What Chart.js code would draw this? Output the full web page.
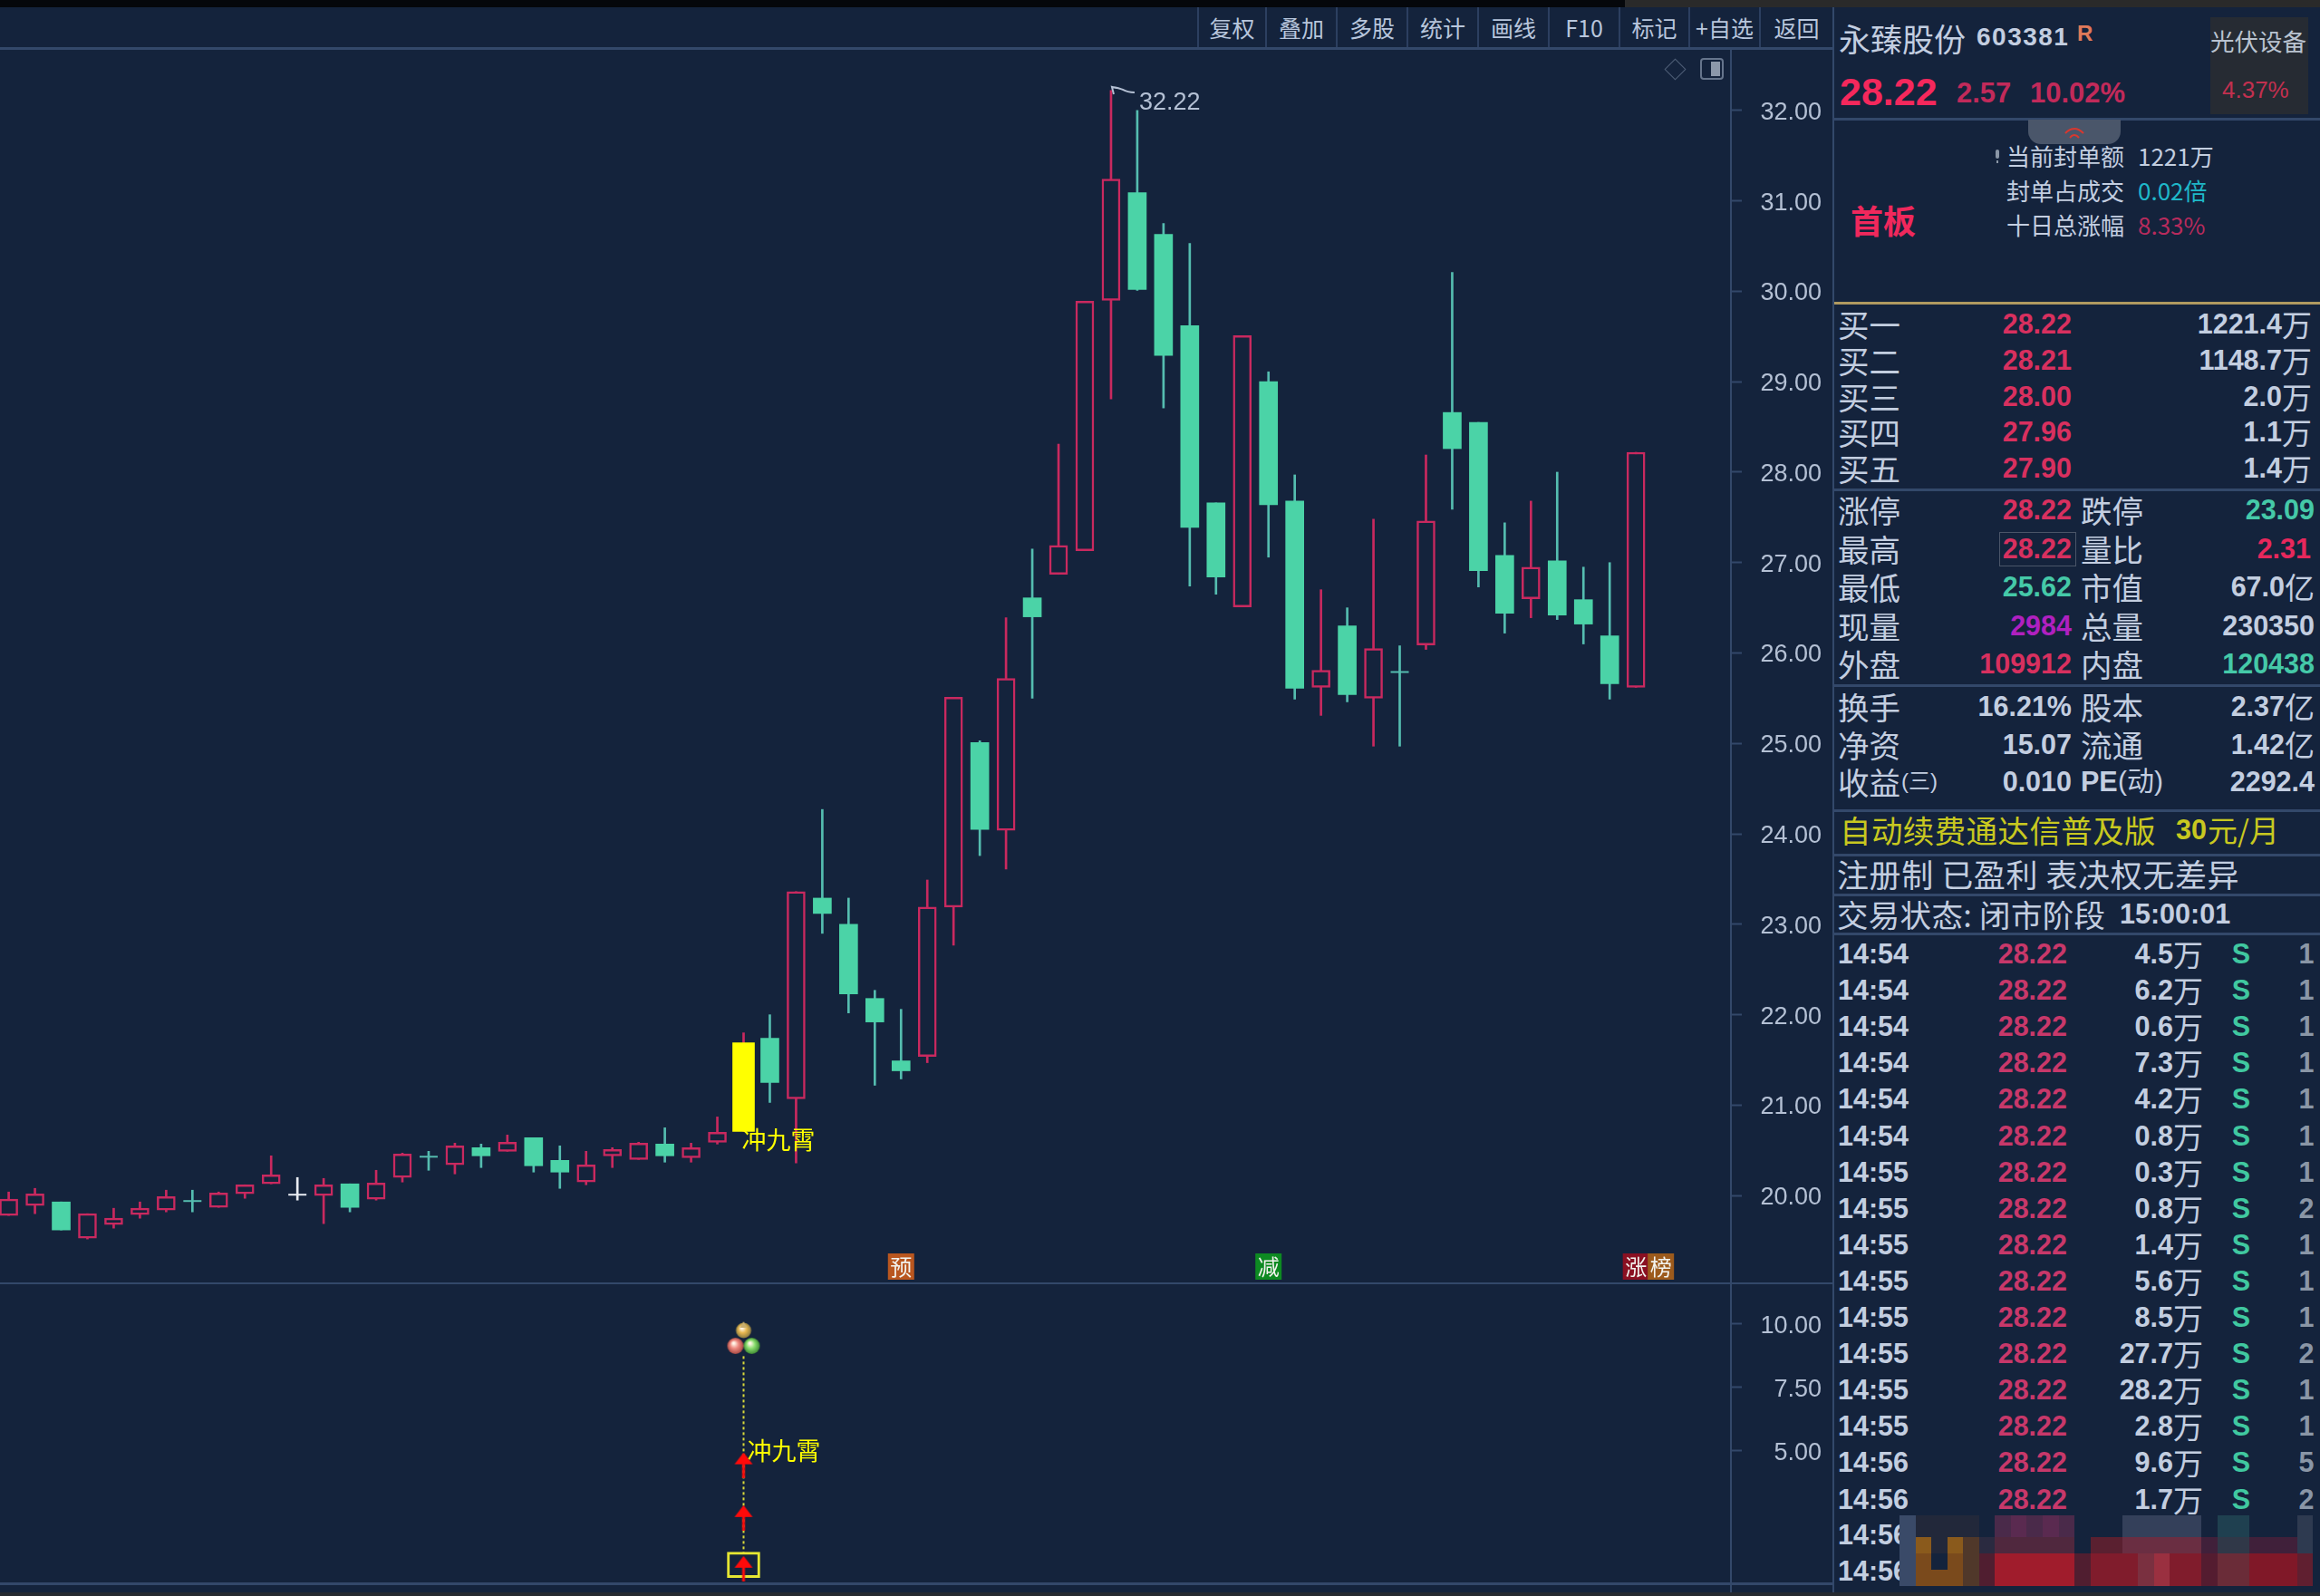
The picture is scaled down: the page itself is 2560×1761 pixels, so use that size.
<!DOCTYPE html>
<html lang="zh">
<head>
<meta charset="utf-8">
<title>永臻股份 603381</title>
<script src="https://cdn.jsdelivr.net/npm/chart.js@4"></script>
<style>
    html, body { margin: 0; padding: 0; background: #14233c; }
    #page { position: relative; width: 2560px; height: 1761px; overflow: hidden; background: #14233c;
        font-family: "Noto Sans CJK SC", "Liberation Sans", sans-serif; }
    #page canvas { position: absolute; left: 0; }
    .t { position: absolute; white-space: pre; line-height: 1; transform: translateY(-50%); }
    .n { font-family: "Liberation Sans", sans-serif; font-weight: 700; }
    .box { position: absolute; }
</style>
</head>
<body>
<div id="page">
    <canvas id="mainChart" width="2010" height="1361" style="top:55px;width:2010px;height:1361px"></canvas>
    <canvas id="subChart" width="2010" height="331" style="top:1416px;width:2010px;height:331px"></canvas>
</div>
<script>
// daily bars
const openPrices = [19.78, 19.89, 19.93, 19.53, 19.68, 19.79, 19.84, 19.95, 19.87, 20.02, 20.13, 20.01, 20.00, 20.13, 19.96, 20.20, 20.44, 20.34, 20.53, 20.49, 20.64, 20.39, 20.15, 20.44, 20.40, 20.57, 20.42, 20.59, 20.71, 21.74, 21.07, 23.29, 23.00, 22.18, 21.49, 21.54, 23.19, 25.01, 24.04, 26.61, 26.87, 27.13, 29.90, 31.09, 30.63, 29.62, 27.66, 26.51, 29.00, 27.68, 25.62, 26.30, 25.50, 25.80, 26.09, 28.66, 28.55, 27.08, 26.60, 27.02, 26.59, 26.19, 25.62];
const closePrices = [19.96, 20.02, 19.62, 19.80, 19.75, 19.86, 19.99, 19.94, 20.03, 20.12, 20.23, 20.01, 20.12, 19.87, 20.14, 20.46, 20.43, 20.55, 20.44, 20.59, 20.33, 20.26, 20.34, 20.51, 20.58, 20.44, 20.53, 20.70, 21.69, 21.25, 23.36, 23.12, 22.23, 21.92, 21.38, 23.19, 25.51, 24.05, 25.72, 26.40, 27.19, 29.89, 31.24, 30.02, 29.29, 27.39, 26.84, 29.51, 27.64, 25.61, 25.81, 25.54, 26.05, 25.79, 27.46, 28.26, 26.91, 26.44, 26.95, 26.42, 26.32, 25.66, 28.22];
const highPrices = [20.04, 20.08, 19.93, 19.80, 19.86, 19.93, 20.06, 20.06, 20.04, 20.12, 20.44, 20.20, 20.19, 20.13, 20.28, 20.47, 20.49, 20.58, 20.57, 20.67, 20.64, 20.55, 20.49, 20.53, 20.59, 20.75, 20.58, 20.87, 21.80, 22.00, 23.36, 24.27, 23.29, 22.27, 22.06, 23.49, 25.51, 25.03, 26.39, 27.15, 28.31, 29.89, 32.22, 32.00, 30.75, 30.53, 27.66, 29.51, 29.11, 27.97, 26.70, 26.50, 27.48, 26.08, 28.19, 30.21, 28.55, 27.44, 27.68, 28.00, 26.95, 27.00, 28.22];
const lowPrices = [19.78, 19.80, 19.62, 19.52, 19.64, 19.75, 19.82, 19.82, 19.87, 19.97, 20.13, 19.95, 19.69, 19.82, 19.95, 20.15, 20.28, 20.24, 20.31, 20.49, 20.26, 20.08, 20.12, 20.31, 20.40, 20.37, 20.37, 20.57, 20.71, 21.03, 20.36, 22.90, 22.02, 21.22, 21.29, 21.47, 22.77, 23.76, 23.61, 25.50, 26.87, 27.13, 28.81, 30.01, 28.71, 26.74, 26.65, 26.51, 27.06, 25.49, 25.31, 25.46, 24.97, 24.97, 26.04, 27.59, 26.73, 26.22, 26.39, 26.37, 26.10, 25.49, 25.62];
const flatBars = [7, 11, 16, 53];
const signalBar = 28;
const peakBar = 42;
const priceTicks = [20, 21, 22, 23, 24, 25, 26, 27, 28, 29, 30, 31, 32];

// lower pane: the 冲九霄 signal column
const subTicks = [5, 7.5, 10];
const signalBox = [0, 1];
const signalLine = [0.9, 8.8];
const arrowLevels = [0.35, 2.35, 4.43];
const ballLevel = 9.42;
const subLabelLevel = 5.0;

const flagBars = [34, 48, 62, 62.95];
const flagTexts = ['预', '减', '涨', '榜'];
const flagColors = ['#b9561f', '#0d8a22', '#8a1022', '#9c5a1c'];

const RED = '#c9295f';
const GREEN = '#4bd3a7';
const GREEN_WICK = '#55bdb0';
const BG = '#14233c';
const AXIS_TEXT = '#b4c0d4';
const LINE = '#33486a';
const LABEL = '冲九霄';

// x runs on the bar index so the first bar can sit half off the left edge
const xMin = -0.3315;
const xMax = 65.62;

function barColor(i) {
    if (closePrices[i] > openPrices[i]) return RED;
    if (closePrices[i] < openPrices[i]) return GREEN;
    return '#e8ecf2';
}

function wickColor(i) {
    const c = barColor(i);
    return c === GREEN ? GREEN_WICK : c;
}

const bars = openPrices.map((_, i) => i);
const bodyBars = bars.filter(i => !flatBars.includes(i) && i !== signalBar);

function rightAxis(tickValues, min, max) {
    return {
        position: 'right',
        min: min,
        max: max,
        afterBuildTicks: scale => { scale.ticks = tickValues.map(value => ({ value })); },
        afterFit: scale => { scale.width = 100; scale.paddingTop = 0; scale.paddingBottom = 0; },
        border: { display: false },
        grid: { drawOnChartArea: false, drawTicks: true, tickLength: 12, tickColor: LINE, tickWidth: 2 },
        ticks: {
            crossAlign: 'far',
            padding: 21,
            labelOffset: 2.5,
            autoSkip: false,
            color: AXIS_TEXT,
            font: { family: '"Liberation Sans"', size: 27 },
            callback: v => v.toFixed(2)
        }
    };
}

const hiddenX = { type: 'linear', min: xMin, max: xMax, offset: false, display: false, grid: { display: false } };

// text and small marks that hang on a bar
const mainMarks = {
    id: 'mainMarks',
    afterDatasetsDraw(chart) {
        const { ctx, scales } = chart;
        const px = scales.x.getPixelForValue(peakBar);
        const py = scales.y.getPixelForValue(highPrices[peakBar]);
        ctx.save();
        ctx.strokeStyle = AXIS_TEXT;
        ctx.lineWidth = 2;
        ctx.beginPath();
        ctx.moveTo(px + 3, py + 4);
        ctx.lineTo(px + 1, py - 4);
        ctx.lineTo(px + 6, py - 3);
        ctx.moveTo(px + 1, py - 4);
        ctx.quadraticCurveTo(px + 9, py - 3, px + 13, py - 1);
        ctx.quadraticCurveTo(px + 18, py + 2, px + 26, py + 2);
        ctx.stroke();
        ctx.fillStyle = AXIS_TEXT;
        ctx.font = '27px "Liberation Sans"';
        ctx.textBaseline = 'middle';
        ctx.fillText(highPrices[peakBar].toFixed(2), px + 31, py + 14);

        ctx.fillStyle = '#ffff00';
        ctx.font = '27px "Noto Sans CJK SC"';
        ctx.fillText(LABEL, scales.x.getPixelForValue(signalBar) - 2, scales.y.getPixelForValue(20.62));

        const bottom = chart.chartArea.bottom - 4;
        flagBars.forEach((b, i) => {
            const x = scales.x.getPixelForValue(b);
            ctx.fillStyle = flagColors[i];
            ctx.fillRect(x - 14.5, bottom - 29, 29, 29);
            ctx.fillStyle = '#f2f2ee';
            ctx.font = '24px "Noto Sans CJK SC"';
            ctx.textAlign = 'center';
            ctx.fillText(flagTexts[i], x, bottom - 14);
            ctx.textAlign = 'left';
        });
        ctx.restore();
    }
};

new Chart(document.getElementById('mainChart'), {
    type: 'bar',
    plugins: [mainMarks],
    data: {
        datasets: [
            {
                label: 'wick',
                order: 4,
                grouped: false,
                barThickness: 2,
                data: bars.map(i => ({ x: i, y: [lowPrices[i], highPrices[i]] })),
                backgroundColor: bars.map(wickColor)
            },
            {
                label: 'body',
                order: 3,
                grouped: false,
                barThickness: 20,
                borderSkipped: false,
                data: bodyBars.map(i => ({ x: i, y: [openPrices[i], closePrices[i]] })),
                backgroundColor: bodyBars.map(i => barColor(i) === RED ? BG : GREEN),
                borderColor: bodyBars.map(i => barColor(i) === RED ? RED : GREEN),
                borderWidth: bodyBars.map(i => barColor(i) === RED ? 2.5 : 0)
            },
            {
                label: 'signal',
                order: 2,
                grouped: false,
                barThickness: 24,
                data: [{ x: signalBar, y: [openPrices[signalBar], closePrices[signalBar]] }],
                backgroundColor: '#ffff00'
            },
            {
                label: 'flat',
                type: 'scatter',
                order: 1,
                data: flatBars.map(i => ({ x: i, y: closePrices[i] })),
                pointStyle: 'line',
                pointRadius: 10,
                pointBorderWidth: 2,
                pointBorderColor: flatBars.map(wickColor)
            }
        ]
    },
    options: {
        responsive: false,
        animation: false,
        devicePixelRatio: 1,
        layout: { padding: 0, autoPadding: false },
        plugins: { legend: { display: false }, tooltip: { enabled: false } },
        scales: {
            x: hiddenX,
            y: rightAxis(priceTicks, 19.03, 32.67)
        }
    }
});

function arrowImage() {
    const c = document.createElement('canvas');
    c.width = 22;
    c.height = 28;
    const g = c.getContext('2d');
    g.fillStyle = '#ff0a0a';
    g.beginPath();
    g.moveTo(11, 0);
    g.lineTo(21, 13);
    g.lineTo(1, 13);
    g.closePath();
    g.fill();
    g.fillRect(9.5, 12, 3, 16);
    return c;
}

function ballsImage() {
    const c = document.createElement('canvas');
    c.width = 40;
    c.height = 40;
    const g = c.getContext('2d');
    const ball = (x, y, r, edge, mid) => {
        const grad = g.createRadialGradient(x - 2, y - 3, 1, x, y, r);
        grad.addColorStop(0, '#fff6e8');
        grad.addColorStop(0.45, mid);
        grad.addColorStop(1, edge);
        g.fillStyle = grad;
        g.beginPath();
        g.arc(x, y, r, 0, Math.PI * 2);
        g.fill();
    };
    ball(20, 11, 8.5, '#8a7a40', '#e8b850');
    g.fillStyle = '#c8ae6e';
    g.beginPath();
    g.moveTo(20, 1);
    g.lineTo(24, 8);
    g.lineTo(16, 8);
    g.closePath();
    g.fill();
    ball(11, 28, 9, '#a84a44', '#ee8a80');
    ball(29, 28, 9, '#3f8a34', '#8ade6e');
    return c;
}

const subMarks = {
    id: 'subMarks',
    afterDatasetsDraw(chart) {
        const { ctx, scales } = chart;
        ctx.save();
        ctx.fillStyle = '#ffff00';
        ctx.font = '27px "Noto Sans CJK SC"';
        ctx.textBaseline = 'middle';
        ctx.fillText(LABEL, scales.x.getPixelForValue(signalBar) + 4, scales.y.getPixelForValue(subLabelLevel));
        ctx.restore();
    }
};

new Chart(document.getElementById('subChart'), {
    type: 'bar',
    plugins: [subMarks],
    data: {
        datasets: [
            {
                label: 'column',
                type: 'line',
                order: 4,
                data: signalLine.map(v => ({ x: signalBar, y: v })),
                borderColor: '#d8d83a',
                borderWidth: 2,
                borderDash: [3, 3],
                pointRadius: 0
            },
            {
                label: 'box',
                order: 3,
                grouped: false,
                barThickness: 36,
                borderSkipped: false,
                data: [{ x: signalBar, y: signalBox }],
                backgroundColor: BG,
                borderColor: '#e6e632',
                borderWidth: 3
            },
            {
                label: 'arrows',
                type: 'scatter',
                order: 2,
                data: arrowLevels.map(v => ({ x: signalBar, y: v })),
                pointStyle: arrowImage()
            },
            {
                label: 'balls',
                type: 'scatter',
                order: 1,
                data: [{ x: signalBar, y: ballLevel }],
                pointStyle: ballsImage()
            }
        ]
    },
    options: {
        responsive: false,
        animation: false,
        devicePixelRatio: 1,
        layout: { padding: 0, autoPadding: false },
        plugins: { legend: { display: false }, tooltip: { enabled: false } },
        scales: {
            x: hiddenX,
            y: rightAxis(subTicks, -0.23, 11.6)
        }
    }
});

// ---- frame and quote panel ----
const page = document.getElementById('page');

function rect(x, y, w, h, color, extra) {
    const d = document.createElement('div');
    d.className = 'box';
    d.style.cssText = `left:${x}px;top:${y}px;width:${w}px;height:${h}px;background:${color};${extra || ''}`;
    page.appendChild(d);
    return d;
}

function put(text, x, y, size, color, opts = {}) {
    const s = document.createElement('span');
    s.className = 't' + (opts.num ? ' n' : '');
    s.textContent = text;
    s.style.fontSize = size + 'px';
    s.style.color = color;
    s.style.top = y + 'px';
    if (opts.right) s.style.right = (2560 - x) + 'px';
    else if (opts.center) { s.style.left = x + 'px'; s.style.transform = 'translate(-50%,-50%)'; }
    else s.style.left = x + 'px';
    if (opts.bold) s.style.fontWeight = 700;
    if (opts.latinFirst) s.style.fontFamily = '"Liberation Sans", "Noto Sans CJK SC", sans-serif';
    if (opts.spacing) s.style.letterSpacing = opts.spacing + 'px';
    page.appendChild(s);
    return s;
}

// number in bold latin followed by a cjk unit, right aligned
function value(text, x, y, color, unitWidth) {
    const m = text.match(/^([\d.,%+-]+)(.*)$/);
    const unit = m ? m[2] : '';
    const num = m ? m[1] : text;
    if (unit) {
        put(unit, x, y, 33, color, { right: true });
        put(num, x - (unitWidth || 33), y, 30.5, color, { num: true, right: true });
    } else {
        put(num, x, y, 30.5, color, { num: true, right: true });
    }
}

const TEXT = '#c3cee0';
const PRICE_RED = '#d8305f';
const PRICE_GREEN = '#45c9a8';

// top strip
rect(0, 0, 1793, 8, '#05070b');
rect(1793, 0, 767, 8, '#2a2a2a');

// toolbar
const toolbarLabels = ['复权', '叠加', '多股', '统计', '画线', 'F10', '标记', '+自选', '返回'];
const toolbarEdges = [1321, 1396, 1474, 1552, 1630, 1708, 1786, 1863, 1941, 2022];
toolbarEdges.forEach(x => rect(x, 8, 2, 45, '#2c3f60'));
toolbarLabels.forEach((t, i) => {
    put(t, (toolbarEdges[i] + toolbarEdges[i + 1]) / 2 + 1, 30, 25, '#b8c6dc', { center: true });
});

// frame lines
rect(0, 52, 2024, 2.5, LINE);
rect(1909, 53, 2, 1708, LINE);
rect(2022, 8, 2, 1753, LINE);
rect(0, 1414.5, 2024, 2.5, LINE);
rect(0, 1746, 2024, 2.5, LINE);
rect(0, 1757, 2560, 4, '#262a30');

// corner icons
rect(1839.5, 67.5, 17, 17, 'transparent', 'border:1.5px solid #4e5e76;transform:rotate(45deg);box-sizing:border-box;');
rect(1876, 64, 26, 24, 'transparent', 'border:2px solid #66758c;border-radius:4px;box-sizing:border-box;');
rect(1888, 68, 10, 16, '#8c98aa');

// header
put('永臻股份', 2029, 41, 35, TEXT);
put('603381', 2181, 41, 28, TEXT, { num: true, spacing: 1.5 });
put('R', 2292, 37, 24, '#e07a5a', { num: true });
rect(2439, 19, 108, 107, '#262b33');
put('光伏设备', 2439, 45, 26.5, '#b9c3d0');
put('4.37%', 2452, 99, 26, '#c2304f', { latinFirst: true });
put('28.22', 2030, 101, 43, '#f5285c', { num: true });
put('2.57', 2159, 102, 31, '#c22a5a', { num: true });
put('10.02%', 2240, 102, 31, '#c22a5a', { num: true });
rect(2024, 130, 536, 2.5, LINE);

// collapse tab
rect(2238, 132, 102, 27, '#4a566a', 'border-radius:0 0 14px 14px;');
const chevron = rect(2277, 136, 24, 16, 'transparent');
chevron.innerHTML = '<svg width="24" height="16" fill="none" stroke="#d8382f" stroke-width="2"><path d="M2 8 Q12 -2 22 8"/><path d="M7 13 Q12 7 17 13"/></svg>';

// limit-up summary
put('首板', 2042, 242, 36, '#f0285c', { bold: true });
rect(2202, 165, 4, 10, '#8a96a6', 'border-radius:2px;');
rect(2203, 177, 2, 3, '#8a96a6');
const summaryLabels = ['当前封单额', '封单占成交', '十日总涨幅'];
const summaryValues = ['1221万', '0.02倍', '8.33%'];
const summaryColors = [TEXT, '#1fb8c9', '#b82b5c'];
summaryLabels.forEach((t, i) => {
    const y = [172, 210, 248][i];
    put(t, 2214, y, 26, TEXT);
    put(summaryValues[i], 2359, y, 26, summaryColors[i]);
});
rect(2024, 333, 536, 3, '#b09a60');

// order book
const orderLabels = ['买一', '买二', '买三', '买四', '买五'];
const orderPrices = ['28.22', '28.21', '28.00', '27.96', '27.90'];
const orderVolumes = ['1221.4万', '1148.7万', '2.0万', '1.1万', '1.4万'];
orderLabels.forEach((t, i) => {
    const y = 357 + i * 39.8;
    put(t, 2028, y, 34.5, TEXT);
    put(orderPrices[i], 2286, y, 30.5, PRICE_RED, { num: true, right: true });
    value(orderVolumes[i], 2551, y, TEXT);
});
rect(2024, 539, 536, 2.5, LINE);

// quote table
const quoteRows = [
    ['涨停', '28.22', PRICE_RED, '跌停', '23.09', PRICE_GREEN],
    ['最高', '28.22', PRICE_RED, '量比', '2.31', '#e8285c'],
    ['最低', '25.62', PRICE_GREEN, '市值', '67.0亿', TEXT],
    ['现量', '2984', '#b020c0', '总量', '230350', TEXT],
    ['外盘', '109912', PRICE_RED, '内盘', '120438', PRICE_GREEN]
];
quoteRows.forEach((r, i) => {
    const y = 562 + i * 42.5;
    put(r[0], 2028, y, 34.5, TEXT);
    put(r[1], 2286, y, 30.5, r[2], { num: true, right: true });
    put(r[3], 2296, y, 34.5, TEXT);
    value(r[4], i === 1 ? 2550 : 2554, y, r[5]);
});
rect(2206, 587, 85, 38, 'transparent', 'border:1.5px solid #4a5568;box-sizing:border-box;');
rect(2024, 755, 536, 2.5, LINE);

const financeRows = [
    ['换手', '16.21%', '股本', '2.37亿'],
    ['净资', '15.07', '流通', '1.42亿']
];
financeRows.forEach((r, i) => {
    const y = 779 + i * 41.5;
    put(r[0], 2028, y, 34.5, TEXT);
    put(r[1], 2286, y, 30.5, TEXT, { num: true, right: true });
    put(r[2], 2296, y, 34.5, TEXT);
    value(r[3], 2554, y, TEXT);
});
put('收益', 2028, 862, 34.5, TEXT);
put('(三)', 2098, 862, 24, TEXT, { latinFirst: true });
put('0.010', 2286, 862, 30.5, TEXT, { num: true, right: true });
put('PE', 2296, 862, 30.5, TEXT, { num: true });
put('(动)', 2337, 862, 30, TEXT, { latinFirst: true });
put('2292.4', 2554, 862, 30.5, TEXT, { num: true, right: true });
rect(2024, 893, 536, 2.5, LINE);

put('自动续费通达信普及版', 2030, 915, 34.5, '#c8c820', { spacing: 0.4 });
put('30', 2401, 915, 30.5, '#c8c820', { num: true });
put('元/月', 2436, 915, 33, '#c8c820');
rect(2024, 942, 536, 2.5, LINE);
put('注册制 已盈利 表决权无差异', 2027, 963, 35, TEXT, { spacing: 0.6 });
rect(2024, 986, 536, 2.5, LINE);
put('交易状态: 闭市阶段', 2027, 1008, 34.5, TEXT, { spacing: 0.3 });
put('15:00:01', 2339, 1008, 30.5, TEXT, { num: true });
rect(2024, 1029, 536, 2.5, LINE);

// tick list
const tickTimes = ['14:54', '14:54', '14:54', '14:54', '14:54', '14:54', '14:55', '14:55', '14:55', '14:55', '14:55', '14:55', '14:55', '14:55', '14:56', '14:56'];
const tickVolumes = ['4.5万', '6.2万', '0.6万', '7.3万', '4.2万', '0.8万', '0.3万', '0.8万', '1.4万', '5.6万', '8.5万', '27.7万', '28.2万', '2.8万', '9.6万', '1.7万'];
const tickCounts = ['1', '1', '1', '1', '1', '1', '1', '2', '1', '1', '1', '2', '1', '1', '5', '2'];
tickTimes.forEach((t, i) => {
    const y = 1052 + i * 40.1;
    put(t, 2028, y, 30.5, TEXT, { num: true });
    put('28.22', 2281, y, 30.5, '#c8386a', { num: true, right: true });
    value(tickVolumes[i], 2431, y, TEXT);
    put('S', 2473, y, 30.5, '#40c8a0', { num: true, center: true });
    put(tickCounts[i], 2545, y, 30.5, '#8a96a6', { num: true, center: true });
});
put('14:56', 2028, 1693, 30.5, TEXT, { num: true });
put('14:56', 2028, 1733, 30.5, TEXT, { num: true });

// the reference has a pixelated patch over its corner
const mosaicPalette = { a: '#3a4a68', b: '#22283a', c: '#4a2a4a', d: '#5a2a50', e: '#34405a', f: '#1f4050', g: '#2e3a50', h: '#8a5a1c', i: '#50382a', j: '#2a2a40', k: '#50283e', l: '#5a2030', m: '#6a2e42', n: '#40203a', o: '#303848', p: '#7a4a1c', q: '#14233c', r: '#a01c2c', s: '#501e30', t: '#801c2c', u: '#7a3040', v: '#9a3040', w: '#541c30', x: '#6a2c38', y: '#801828', z: '#601f30' };
const mosaicRows = ['abbbbqcdcdcqqqeeeeeqffqqqg', 'ahbhijkkkkkqllmmmmmnoonnng', 'apqpisrrrrrstttuvttwxxyyyz', 'apppisrrrrrstttuvttwxxyyyz'];
const mosaicTops = [1672, 1696, 1714, 1732, 1750];
mosaicRows.forEach((row, r) => {
    [...row].forEach((key, c) => {
        rect(2096 + c * 17.55, mosaicTops[r], 17.6, mosaicTops[r + 1] - mosaicTops[r], mosaicPalette[key]);
    });
});
</script>
</body>
</html>
